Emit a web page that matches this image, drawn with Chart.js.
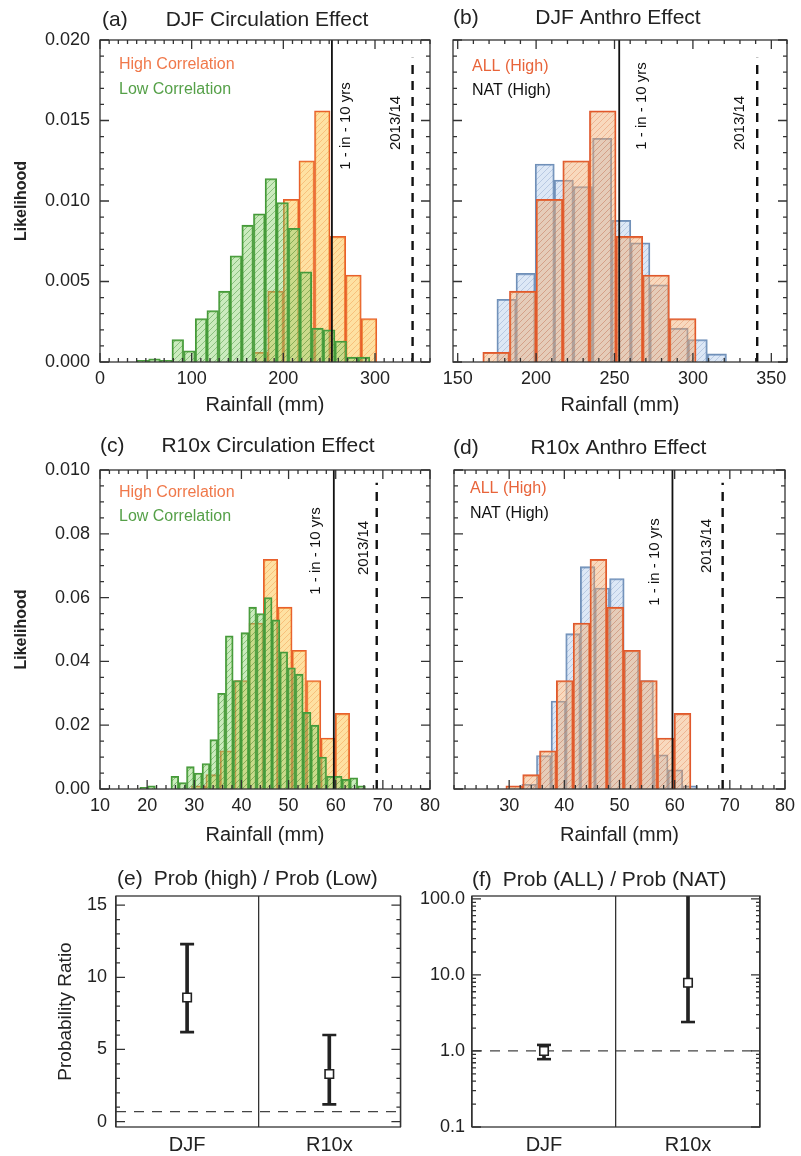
<!DOCTYPE html>
<html>
<head>
<meta charset="utf-8">
<title>DJF and R10x rainfall attribution</title>
<script src="https://cdn.jsdelivr.net/npm/chart.js@4.4.1/dist/chart.umd.min.js"></script>
<style>
  body { margin: 0; background: #fff; }
  #wrap { position: relative; width: 801px; height: 1156px; overflow: hidden; }
  canvas { position: absolute; }
</style>
</head>
<body>
<div id="wrap">
  <canvas id="pa" width="440" height="425" style="left:0;top:0"></canvas>
  <canvas id="pb" width="360" height="425" style="left:440px;top:0"></canvas>
  <canvas id="pc" width="440" height="430" style="left:0;top:425px"></canvas>
  <canvas id="pd" width="360" height="430" style="left:440px;top:425px"></canvas>
  <canvas id="pe" width="410" height="301" style="left:0;top:855px"></canvas>
  <canvas id="pf" width="390" height="301" style="left:410px;top:855px"></canvas>
</div>
<script>
const FONT = '"Liberation Sans", Arial, sans-serif';
Chart.defaults.font.family = FONT;
Chart.defaults.color = '#222';

// DJF seasonal rainfall (mm): bin edges and likelihoods
const djfHighEdges = [166, 183, 200, 217, 234, 251, 268, 285, 302];
const djfHighLike  = [0.0006, 0.0044, 0.0101, 0.0125, 0.0156, 0.0078, 0.0054, 0.0027];
const djfLowEdges  = [40.4, 53.1, 65.8, 78.5, 91.2, 103.9, 116.6, 129.3, 142.0, 154.7, 167.4,
                      180.1, 192.8, 205.5, 218.2, 230.9, 243.6, 256.3, 269.0, 281.7, 294.4];
const djfLowLike   = [0.0001, 0.0002, 0.0001, 0.0014, 0.0007, 0.0027, 0.0032, 0.0044, 0.0066, 0.0085,
                      0.0092, 0.0114, 0.0099, 0.0083, 0.0056, 0.0021, 0.0020, 0.0013, 0.0003, 0.0003];
const djfNatEdges  = [175, 187.2, 199.4, 211.6, 223.8, 236, 248.2, 260.4, 272.6, 284.8, 297, 309.2, 321.4];
const djfNatLike   = [0.0039, 0.0055, 0.0123, 0.0113, 0.0109, 0.0139, 0.0088, 0.0074, 0.0048, 0.0021, 0.0014, 0.0005];
const djfMarks = [253, 341];          // 1-in-10 yr threshold, 2013/14 observed
const djfObsTop = 0.0189;

// R10x rainfall (mm)
const r10HighEdges = [29.4, 32.45, 35.5, 38.55, 41.6, 44.65, 47.7, 50.75, 53.8, 56.85, 59.9, 62.95];
const r10HighLike  = [0.001, 0.0045, 0.012, 0.034, 0.052, 0.072, 0.057, 0.0435, 0.034, 0.016, 0.0237];
const r10LowEdges  = [18.45, 20.1, 21.75, 23.4, 25.05, 26.7, 28.35, 30, 31.65, 33.3, 34.95, 36.6, 38.25, 39.9, 41.55,
                      43.2, 44.85, 46.5, 48.15, 49.8, 51.45, 53.1, 54.75, 56.4, 58.05, 59.7, 61.35, 63, 64.65, 66.3];
const r10LowLike   = [0.0005, 0.001, 0, 0, 0.004, 0.002, 0.007, 0.005, 0.008, 0.0155, 0.030, 0.048, 0.034, 0.049, 0.057,
                      0.055, 0.060, 0.053, 0.043, 0.038, 0.036, 0.024, 0.020, 0.010, 0.004, 0.004, 0.003, 0.0035, 0.001];
const r10NatEdges  = [32.3, 34.95, 37.6, 40.25, 42.9, 45.55, 48.2, 50.85, 53.5, 56.15, 58.8, 61.45, 64.1];
const r10NatLike   = [0.0015, 0.0105, 0.0276, 0.0487, 0.0697, 0.063, 0.066, 0.0434, 0.034, 0.0107, 0.006, 0.001];
const r10Marks = [59.6, 68.7];
const r10ObsTop = 0.096;

// probability ratios
const ratioCats = ['DJF', 'R10x'];
const circBest = [8.6, 3.3], circLow = [6.2, 1.2], circHigh = [12.3, 6.0];
const anthBest = [1.0, 7.9], anthLow = [0.78, 2.4], anthHigh = [1.2, 200];
const circRef = 0.7, anthRef = 1;

// ticks
const likeTicksDJF  = [0, 0.005, 0.01, 0.015, 0.02];
const likeLabelsDJF = ['0.000', '0.005', '0.010', '0.015', '0.020'];
const rainTicksA = [0, 100, 200, 300];
const rainTicksB = [150, 200, 250, 300, 350];
const likeTicksR10  = [0, 0.02, 0.04, 0.06, 0.08, 0.1];
const likeLabelsR10 = ['0.00', '0.02', '0.04', '0.06', '0.08', '0.010'];
const rainTicksC = [10, 20, 30, 40, 50, 60, 70, 80];
const rainTicksD = [30, 40, 50, 60, 70, 80];
const circTicks = [0, 5, 10, 15];
const anthTicks = [0.1, 1, 10, 100];

function hatch(fill, line) {
  const c = document.createElement('canvas');
  c.width = 6; c.height = 6;
  const g = c.getContext('2d');
  g.fillStyle = fill; g.fillRect(0, 0, 6, 6);
  g.strokeStyle = line; g.lineWidth = 1;
  g.beginPath(); g.moveTo(0, 6); g.lineTo(6, 0); g.stroke();
  return g.createPattern(c, 'repeat');
}
const HIGH_FILL = hatch('rgba(253,205,100,0.6)', 'rgba(235,130,50,0.35)');
const LOW_FILL  = hatch('rgba(140,210,110,0.45)', 'rgba(60,140,50,0.45)');
const ALL_FILL  = hatch('rgba(240,170,110,0.45)', 'rgba(220,100,50,0.3)');
const NAT_FILL  = hatch('rgba(180,205,235,0.45)', 'rgba(100,130,180,0.3)');
const HIGH_EDGE = '#e8602c', LOW_EDGE = '#45993a', ALL_EDGE = '#e0582c', NAT_EDGE = '#7090b8';

// text and tick layout per panel
const panelInfo = {
  pa: { tag: '(a)', title: 'DJF Circulation Effect', centered: true, tagDx: 2, titleDx: 2, titleDy: -20,
        legend: [{ text: 'High Correlation', color: '#f0784a' }, { text: 'Low Correlation', color: '#55a048' }],
        legendDx: 19, legendDy: [25, 50],
        marks: [{ value: djfMarks[0], text: '1 - in - 10 yrs', dx: 14, dy: 86 }, { value: djfMarks[1], text: '2013/14', dx: -17, dy: 83 }],
        ticks: { xMinor: 10, yMinor: 0.001 } },
  pb: { tag: '(b)', title: 'DJF Anthro Effect', centered: true, tagDx: 0, titleDx: -2, titleDy: -22,
        legend: [{ text: 'ALL (High)', color: '#e8643a' }, { text: 'NAT (High)', color: '#111' }],
        legendDx: 19, legendDy: [27, 51],
        marks: [{ value: djfMarks[0], text: '1 - in - 10 yrs', dx: 23, dy: 66 }, { value: djfMarks[1], text: '2013/14', dx: -17, dy: 83 }],
        ticks: { xMinor: 10, yMinor: 0.001 } },
  pc: { tag: '(c)', title: 'R10x Circulation Effect', centered: true, tagDx: 0, titleDx: 3, titleDy: -24,
        legend: [{ text: 'High Correlation', color: '#f0784a' }, { text: 'Low Correlation', color: '#55a048' }],
        legendDx: 19, legendDy: [23, 47],
        marks: [{ value: r10Marks[0], text: '1 - in - 10 yrs', dx: -18, dy: 81 }, { value: r10Marks[1], text: '2013/14', dx: -13, dy: 78 }],
        ticks: { xMinor: 2, yMinor: 0.005 } },
  pd: { tag: '(d)', title: 'R10x Anthro Effect', centered: true, tagDx: -1, titleDx: -1, titleDy: -22,
        legend: [{ text: 'ALL (High)', color: '#e8643a' }, { text: 'NAT (High)', color: '#111' }],
        legendDx: 16, legendDy: [19, 44],
        marks: [{ value: r10Marks[0], text: '1 - in - 10 yrs', dx: -18, dy: 92 }, { value: r10Marks[1], text: '2013/14', dx: -16, dy: 76 }],
        ticks: { xMinor: 2, yMinor: 0.005 } },
  pe: { tag: '(e)', title: 'Prob (high) / Prob (Low)', centered: false, tagDx: 1, titleDy: -17, ticks: { yMinor: 1 } },
  pf: { tag: '(f)', title: 'Prob (ALL) / Prob (NAT)', centered: false, tagDx: 0, titleDy: -16, ticks: { yLog: true } }
};

function minorSteps(min, max, step) {
  const out = [];
  for (let k = Math.ceil(min / step - 1e-9); k * step <= max + 1e-9; k++) out.push(k * step);
  return out;
}
function logMinors(min, max) {
  const out = [];
  for (let d = Math.floor(Math.log10(min)); d <= Math.ceil(Math.log10(max)); d++) {
    for (let m = 2; m <= 9; m++) {
      const v = m * Math.pow(10, d);
      if (v >= min && v <= max) out.push(v);
    }
  }
  return out;
}

Chart.register({
  id: 'idlFrame',
  afterDatasetsDraw(chart) {
    const info = panelInfo[chart.canvas.id];
    if (!info) return;
    const { ctx, chartArea: a } = chart;
    const xs = chart.scales.x, ys = chart.scales.y;
    const t = info.ticks;
    ctx.save();
    ctx.strokeStyle = '#333';
    ctx.lineWidth = 1.3;
    ctx.strokeRect(a.left, a.top, a.right - a.left, a.bottom - a.top);
    ctx.beginPath();
    const vtick = (v, len) => {
      const p = xs.getPixelForValue(v);
      ctx.moveTo(p, a.bottom); ctx.lineTo(p, a.bottom - len);
      ctx.moveTo(p, a.top); ctx.lineTo(p, a.top + len);
    };
    const htick = (v, len) => {
      const p = ys.getPixelForValue(v);
      ctx.moveTo(a.left, p); ctx.lineTo(a.left + len, p);
      ctx.moveTo(a.right, p); ctx.lineTo(a.right - len, p);
    };
    if (t.xMinor) {
      minorSteps(xs.min, xs.max, t.xMinor).forEach(v => vtick(v, 4));
      xs.ticks.forEach(k => vtick(k.value, 9));
    }
    if (t.yLog) logMinors(ys.min, ys.max).forEach(v => htick(v, 4));
    else if (t.yMinor) minorSteps(ys.min, ys.max, t.yMinor).forEach(v => htick(v, 4));
    ys.ticks.forEach(k => htick(k.value, 9));
    ctx.stroke();
    ctx.restore();
  },
  afterDraw(chart) {
    const info = panelInfo[chart.canvas.id];
    if (!info) return;
    const { ctx, chartArea: a } = chart;
    const xs = chart.scales.x;
    ctx.save();
    ctx.textBaseline = 'middle';
    ctx.fillStyle = '#222';
    ctx.font = '21px ' + FONT;
    const ty = a.top + info.titleDy;
    ctx.textAlign = 'left';
    ctx.fillText(info.tag, a.left + info.tagDx, ty);
    if (info.centered) {
      ctx.textAlign = 'center';
      ctx.fillText(info.title, (a.left + a.right) / 2 + info.titleDx, ty);
    } else {
      ctx.fillText(info.title, a.left + info.tagDx + ctx.measureText(info.tag).width + 11, ty);
    }
    ctx.textAlign = 'left';
    ctx.font = '16px ' + FONT;
    (info.legend || []).forEach((l, i) => {
      ctx.fillStyle = l.color;
      ctx.fillText(l.text, a.left + info.legendDx, a.top + info.legendDy[i]);
    });
    ctx.fillStyle = '#111';
    ctx.font = '15px ' + FONT;
    ctx.textAlign = 'center';
    (info.marks || []).forEach(m => {
      ctx.save();
      ctx.translate(xs.getPixelForValue(m.value) + m.dx, a.top + m.dy);
      ctx.rotate(-Math.PI / 2);
      ctx.fillText(m.text, 0, 0);
      ctx.restore();
    });
    ctx.restore();
  }
});

function histSet(edges, like, axis, fill, edge) {
  return {
    type: 'bar', xAxisID: axis,
    data: like.map((v, i) => ({ x: (edges[i] + edges[i + 1]) / 2, y: v })),
    backgroundColor: fill, borderColor: edge, borderWidth: 1.4,
    grouped: false, barPercentage: 1, categoryPercentage: 1
  };
}
function markSet(x, top, dashed) {
  return {
    type: 'line', xAxisID: 'x',
    data: [{ x: x, y: 0 }, { x: x, y: top }],
    borderColor: '#111', borderWidth: dashed ? 2.4 : 1.8,
    borderDash: dashed ? [9, 7] : [], pointRadius: 0
  };
}

function histChart(id, o) {
  const scales = {
    x: {
      type: 'linear', min: o.xmin, max: o.xmax, offset: false,
      afterBuildTicks: s => { s.ticks = o.xticks.map(v => ({ value: v })); },
      afterFit: s => { s.height = o.xh; s.paddingLeft = 0; s.paddingRight = 0; },
      grid: { display: false, drawTicks: false, offset: false }, border: { display: false },
      ticks: { font: { size: 18 }, padding: 6, maxRotation: 0, autoSkip: false },
      title: { display: true, text: 'Rainfall (mm)', font: { size: 20 }, padding: { top: 0, bottom: 8 } }
    },
    y: {
      type: 'linear', min: 0, max: o.yticks[o.yticks.length - 1],
      afterBuildTicks: s => { s.ticks = o.yticks.map(v => ({ value: v })); },
      afterFit: s => { s.width = o.yw; s.paddingTop = 0; s.paddingBottom = 0; },
      grid: { display: false, drawTicks: false }, border: { display: false },
      ticks: { display: !!o.ylabels, font: { size: 18 }, padding: 10, callback: (v, i) => (o.ylabels ? o.ylabels[i] : '') },
      title: { display: !!o.ytitle, text: o.ytitle || '', font: { size: 16, weight: 'bold' }, padding: { top: 12, bottom: 0 } }
    }
  };
  o.hidden.forEach(k => {
    scales[k] = { type: 'linear', display: false, offset: false, grid: { offset: false },
                  min: o.xmin, max: o.xmax, ticks: { stepSize: o.xmax - o.xmin } };
  });
  return new Chart(document.getElementById(id), {
    type: 'bar',
    data: { datasets: o.sets },
    options: {
      responsive: false, animation: false, devicePixelRatio: 1,
      layout: { padding: o.pad },
      plugins: { legend: { display: false }, tooltip: { enabled: false } },
      scales: scales
    }
  });
}

histChart('pa', {
  xmin: 0, xmax: 360, xticks: rainTicksA, yticks: likeTicksDJF, ylabels: likeLabelsDJF, ytitle: 'Likelihood',
  xh: 63, yw: 100, pad: { top: 40, right: 10, left: 0, bottom: 0 }, hidden: ['xl', 'xh'],
  sets: [
    markSet(djfMarks[0], 0.02, false),
    markSet(djfMarks[1], djfObsTop, true),
    histSet(djfLowEdges, djfLowLike, 'xl', LOW_FILL, LOW_EDGE),
    histSet(djfHighEdges, djfHighLike, 'xh', HIGH_FILL, HIGH_EDGE)
  ]
});

histChart('pb', {
  xmin: 147, xmax: 360, xticks: rainTicksB, yticks: likeTicksDJF, ylabels: null, ytitle: null,
  xh: 63, yw: 13, pad: { top: 40, right: 13, left: 0, bottom: 0 }, hidden: ['xa', 'xn'],
  sets: [
    markSet(djfMarks[0], 0.02, false),
    markSet(djfMarks[1], djfObsTop, true),
    histSet(djfHighEdges, djfHighLike, 'xa', ALL_FILL, ALL_EDGE),
    histSet(djfNatEdges, djfNatLike, 'xn', NAT_FILL, NAT_EDGE)
  ]
});

histChart('pc', {
  xmin: 10, xmax: 80, xticks: rainTicksC, yticks: likeTicksR10, ylabels: likeLabelsR10, ytitle: 'Likelihood',
  xh: 66, yw: 100, pad: { top: 45, right: 10, left: 0, bottom: 0 }, hidden: ['xl', 'xh'],
  sets: [
    markSet(r10Marks[0], 0.1, false),
    markSet(r10Marks[1], r10ObsTop, true),
    histSet(r10LowEdges, r10LowLike, 'xl', LOW_FILL, LOW_EDGE),
    histSet(r10HighEdges, r10HighLike, 'xh', HIGH_FILL, HIGH_EDGE)
  ]
});

histChart('pd', {
  xmin: 20, xmax: 80, xticks: rainTicksD, yticks: likeTicksR10, ylabels: null, ytitle: null,
  xh: 66, yw: 14, pad: { top: 45, right: 15, left: 0, bottom: 0 }, hidden: ['xa', 'xn'],
  sets: [
    markSet(r10Marks[0], 0.1, false),
    markSet(r10Marks[1], r10ObsTop, true),
    histSet(r10HighEdges, r10HighLike, 'xa', ALL_FILL, ALL_EDGE),
    histSet(r10NatEdges, r10NatLike, 'xn', NAT_FILL, NAT_EDGE)
  ]
});

function ratioChart(id, o) {
  return new Chart(document.getElementById(id), {
    type: 'bar',
    data: {
      labels: ratioCats,
      datasets: [
        { type: 'line', data: ratioCats.map((c, i) => ({ x: c, y: o.best[i] })), showLine: false,
          pointStyle: 'rect', pointRadius: 6, pointBackgroundColor: '#fff', pointBorderColor: '#222', pointBorderWidth: 1.6 },
        { type: 'line', data: ratioCats.flatMap((c, i) => [{ x: c, y: o.low[i] }, { x: c, y: o.high[i] }]), showLine: false,
          pointStyle: 'line', pointRadius: 7, pointBorderColor: '#222', pointBorderWidth: 2.6, clip: 0 },
        { type: 'bar', data: ratioCats.map((c, i) => ({ x: c, y: [o.low[i], o.high[i]] })),
          backgroundColor: '#222', barThickness: 3, grouped: false, clip: 0 },
        { type: 'line', xAxisID: 'xr', data: [{ x: 0, y: o.ref }, { x: 1, y: o.ref }],
          borderColor: '#444', borderWidth: 1.3, borderDash: [10, 8], pointRadius: 0 }
      ]
    },
    options: {
      responsive: false, animation: false, devicePixelRatio: 1,
      layout: { padding: o.pad },
      plugins: { legend: { display: false }, tooltip: { enabled: false } },
      scales: {
        x: {
          type: 'category', offset: true,
          grid: { display: true, offset: true, color: '#333', lineWidth: 1.3, drawTicks: false },
          border: { display: false },
          ticks: { font: { size: 20 }, padding: 6 },
          afterFit: s => { s.height = 29; s.paddingLeft = 0; s.paddingRight = 0; }
        },
        xr: { type: 'linear', display: false, offset: false, grid: { offset: false }, min: 0, max: 1 },
        y: Object.assign({
          afterBuildTicks: s => { s.ticks = o.yticks.map(v => ({ value: v })); },
          afterFit: s => { s.width = o.yw; s.paddingTop = 0; s.paddingBottom = 0; },
          grid: { display: false, drawTicks: false }, border: { display: false }
        }, o.y)
      }
    }
  });
}

ratioChart('pe', {
  best: circBest, low: circLow, high: circHigh, ref: circRef, yticks: circTicks, yw: 116,
  pad: { top: 41, right: 5, left: 0, bottom: 0 },
  y: { type: 'linear', min: -0.37, max: 15.63,
       ticks: { font: { size: 18 }, padding: 9 },
       title: { display: true, text: 'Probability Ratio', font: { size: 19 }, padding: { top: 54, bottom: 0 } } }
});

ratioChart('pf', {
  best: anthBest, low: anthLow, high: anthHigh, ref: anthRef, yticks: anthTicks, yw: 62,
  pad: { top: 41, right: 40, left: 0, bottom: 0 },
  y: { type: 'logarithmic', min: 0.1, max: 109,
       ticks: { font: { size: 18 }, padding: 7, callback: v => Number(v).toFixed(1) } }
});
</script>
</body>
</html>
